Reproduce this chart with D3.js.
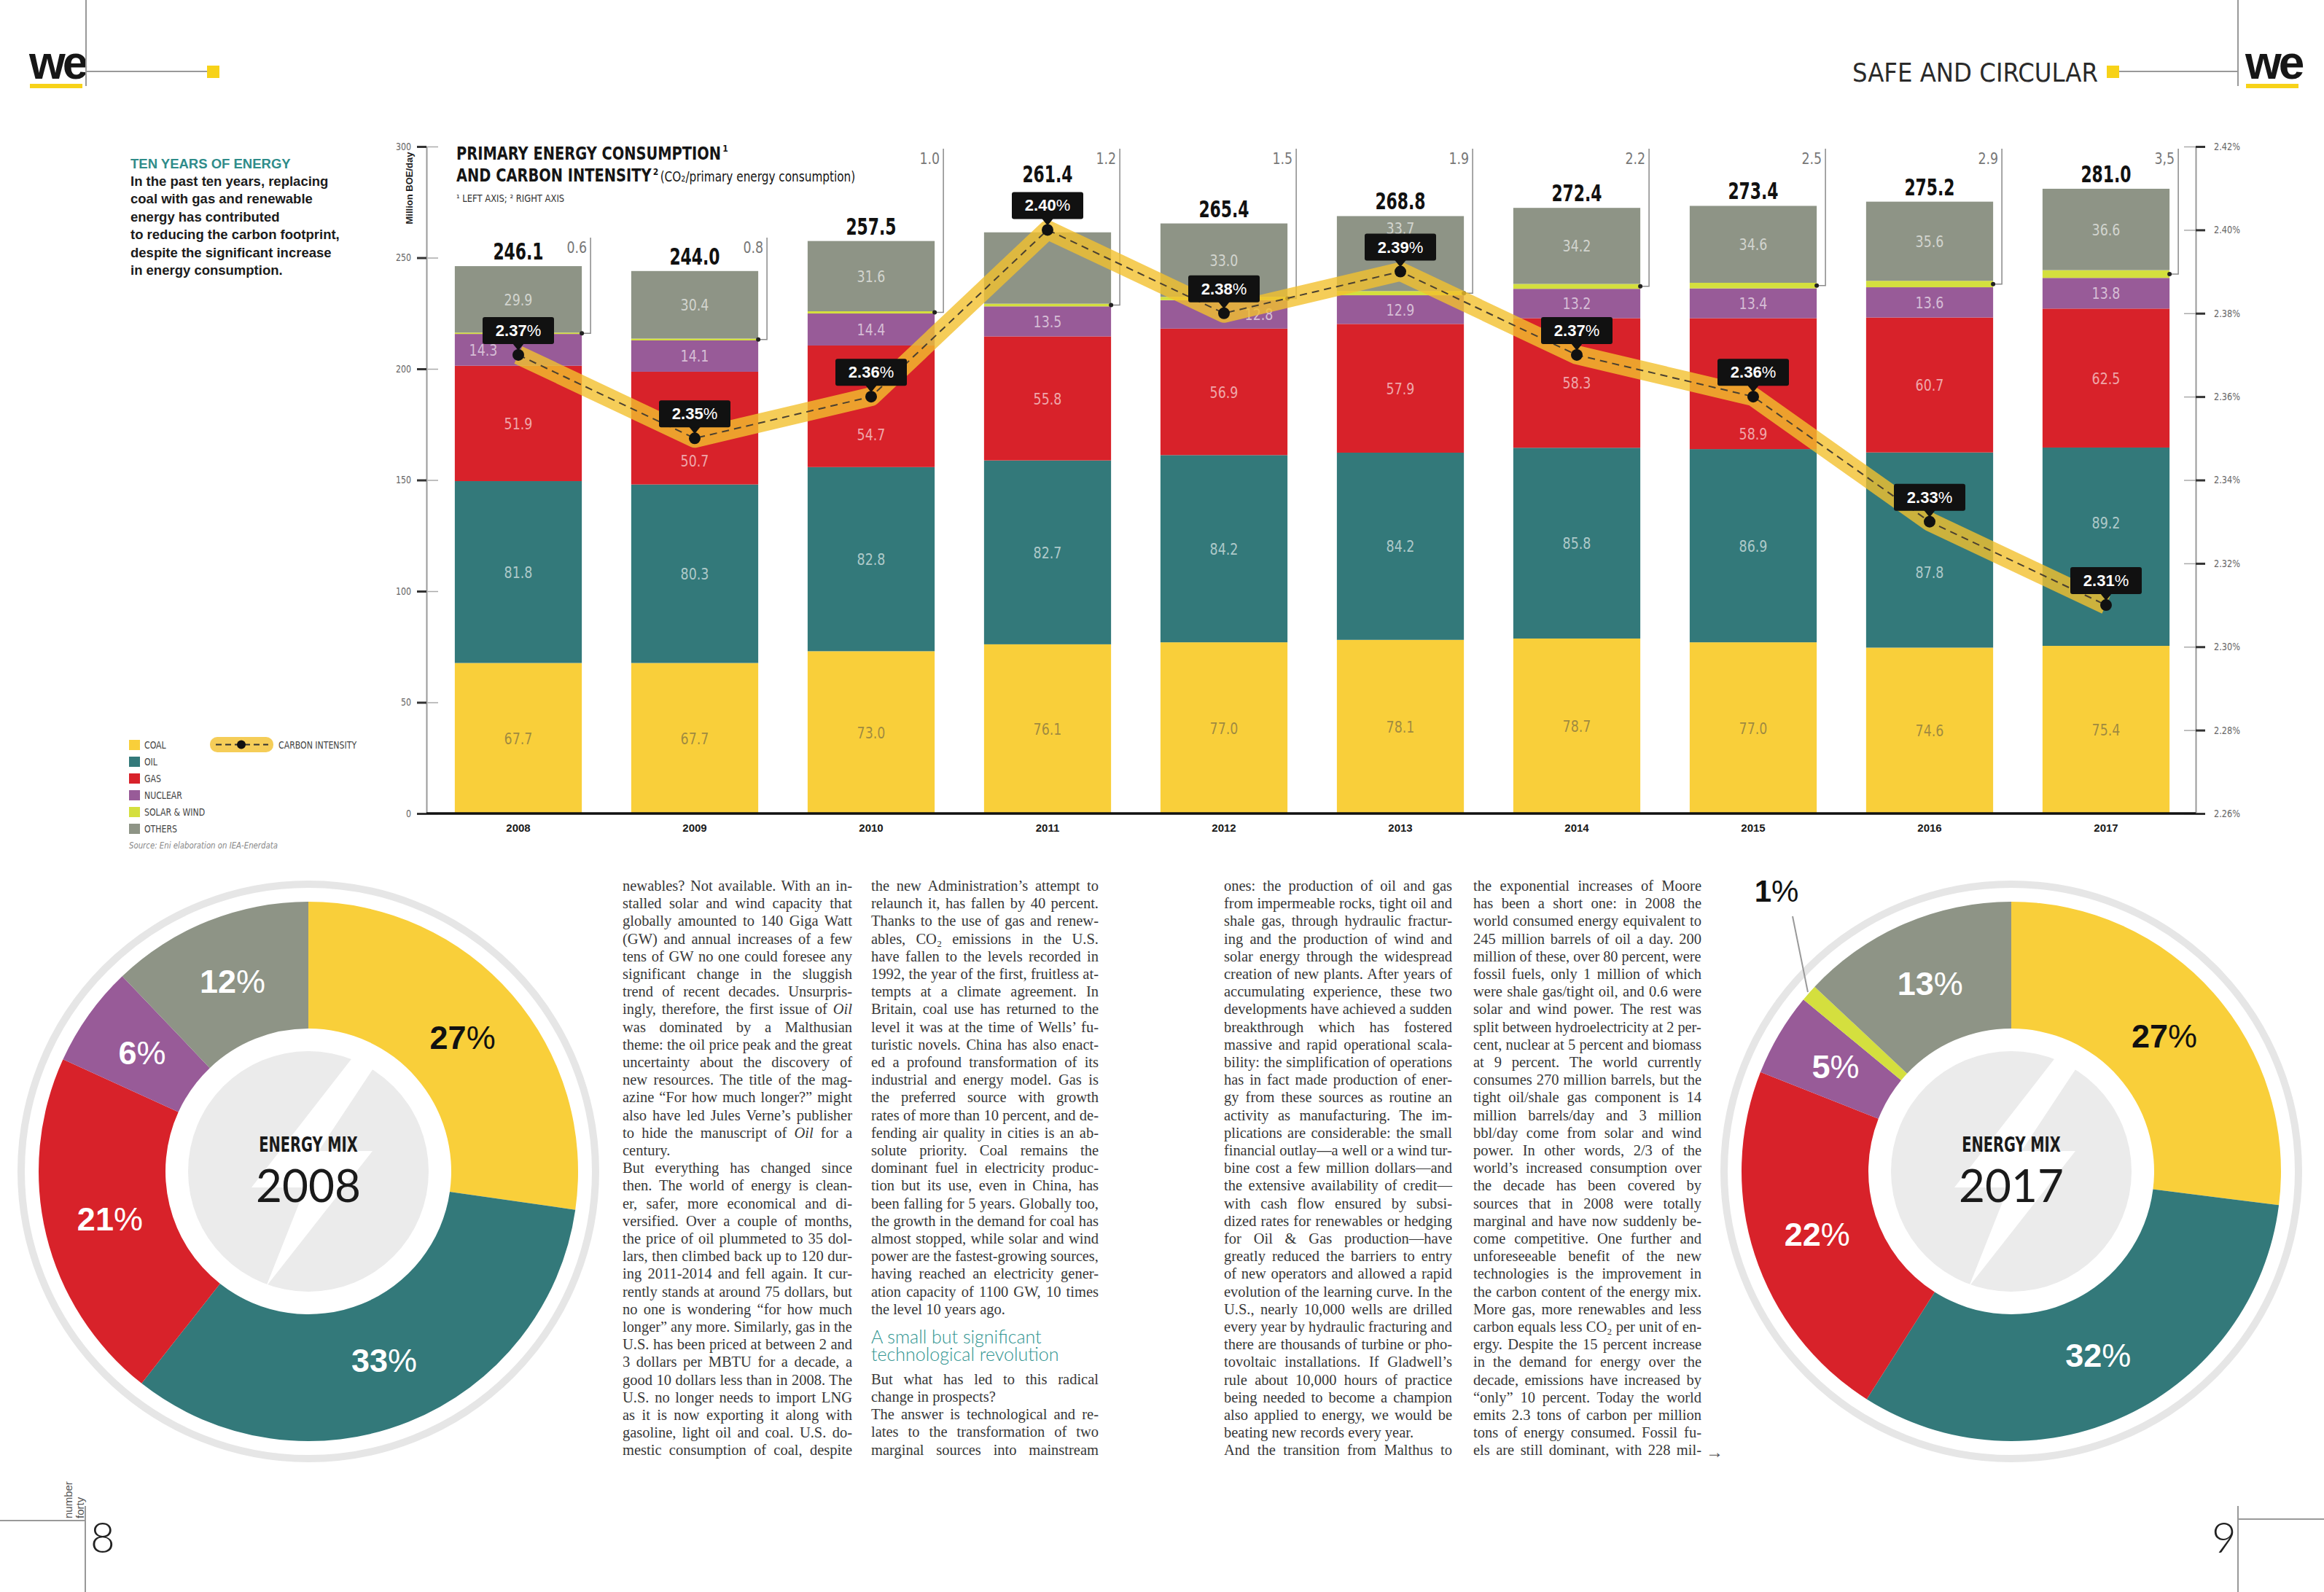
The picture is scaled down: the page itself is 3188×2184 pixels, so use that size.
<!DOCTYPE html>
<html lang="en">
<head>
<meta charset="utf-8">
<script src="https://cdn.jsdelivr.net/npm/d3@7"></script>
<title>Ten years of energy</title>
<style>
  body{margin:0;background:#fff;}
  svg{display:block;}
  .narrow{font-family:"Liberation Sans Narrow","DejaVu Sans Condensed","Roboto",sans-serif;}
  .sans{font-family:"Liberation Sans",Arial,sans-serif;}
  .serif{font-family:"Liberation Serif","DejaVu Serif",serif;}
  .light{font-family:Lato,"Open Sans",sans-serif;font-weight:300;}
</style>
</head>
<body>
<script>

// ---- data (Million BOE/day)
var years = [2008, 2009, 2010, 2011, 2012, 2013, 2014, 2015, 2016, 2017];
var coal      = [67.7, 67.7, 73.0, 76.1, 77.0, 78.1, 78.7, 77.0, 74.6, 75.4];
var oil       = [81.8, 80.3, 82.8, 82.7, 84.2, 84.2, 85.8, 86.9, 87.8, 89.2];
var gas       = [51.9, 50.7, 54.7, 55.8, 56.9, 57.9, 58.3, 58.9, 60.7, 62.5];
var nuclear   = [14.3, 14.1, 14.4, 13.5, 12.8, 12.9, 13.2, 13.4, 13.6, 13.8];
var solarWind = [0.6, 0.8, 1.0, 1.2, 1.5, 1.9, 2.2, 2.5, 2.9, 3.5];
var others    = [29.9, 30.4, 31.6, 32.1, 33.0, 33.7, 34.2, 34.6, 35.6, 36.6];
var totals    = [246.1, 244.0, 257.5, 261.4, 265.4, 268.8, 272.4, 273.4, 275.2, 281.0];
var solarLabels = ["0.6", "0.8", "1.0", "1.2", "1.5", "1.9", "2.2", "2.5", "2.9", "3,5"];

// carbon intensity (right axis, %)
var carbonIntensity = [2.37, 2.35, 2.36, 2.40, 2.38, 2.39, 2.37, 2.36, 2.33, 2.31];

var leftTicks  = [0, 50, 100, 150, 200, 250, 300];
var rightTicks = [2.26, 2.28, 2.30, 2.32, 2.34, 2.36, 2.38, 2.40, 2.42];

var sourceNames = ["COAL", "OIL", "GAS", "NUCLEAR", "SOLAR & WIND", "OTHERS"];

// energy mix donuts (%)
var mix2008 = [27, 33, 21, 6, 0, 12];
var mix2017 = [27, 32, 22, 5, 1, 13];

// ---- setup
var W = 3188, H = 2184;
var keys = ["coal", "oil", "gas", "nuclear", "solar", "others"];
var colors = ["#f9cf3a", "#33797a", "#d8222a", "#985b98", "#d4df3e", "#8e9486"];
var colorOf = {};
keys.forEach(function(k, i){ colorOf[k] = colors[i]; });

var svg = d3.select("body").append("svg").attr("width", W).attr("height", H)
  .style("background", "#fff");

var x  = d3.scaleBand().domain(years).range([590, 3010]).paddingInner(0.28).paddingOuter(0.14);
var yL = d3.scaleLinear().domain([0, 300]).range([1116, 201]);
var yR = d3.scaleLinear().domain([2.26, 2.42]).range([1116, 201]);
var bw = x.bandwidth();
var cx = function(yr){ return x(yr) + bw / 2; };

// squeeze text horizontally around its x, the fonts here are not condensed enough
function condense(sel, f){
  var last = 0;
  sel.each(function(){
    var n = this.getComputedTextLength();
    var x0 = +d3.select(this).attr("x") || 0;
    last = n * f;
    d3.select(this).attr("transform", "translate(" + x0 + ",0) scale(" + f + ",1) translate(" + (-x0) + ",0)");
  });
  return last;
}

// ---- page furniture
function logo(xp, yp){
  svg.append("text").attr("class", "sans").attr("x", xp).attr("y", yp)
    .attr("font-size", 64).attr("font-weight", 700).attr("letter-spacing", -4)
    .attr("fill", "#161616").text("we");
  svg.append("rect").attr("x", xp + 1).attr("y", yp + 7).attr("width", 72).attr("height", 6).attr("fill", "#f7d218");
}
logo(40, 108);
logo(3080, 108);
svg.append("line").attr("x1", 118).attr("x2", 118).attr("y1", 0).attr("y2", 118).attr("stroke", "#999").attr("stroke-width", 2);
svg.append("line").attr("x1", 118).attr("x2", 286).attr("y1", 98).attr("y2", 98).attr("stroke", "#999").attr("stroke-width", 2);
svg.append("rect").attr("x", 284).attr("y", 90).attr("width", 17).attr("height", 17).attr("fill", "#f7d218");
svg.append("line").attr("x1", 3070).attr("x2", 3070).attr("y1", 0).attr("y2", 118).attr("stroke", "#999").attr("stroke-width", 2);
svg.append("line").attr("x1", 2905).attr("x2", 3070).attr("y1", 98).attr("y2", 98).attr("stroke", "#999").attr("stroke-width", 2);
svg.append("rect").attr("x", 2890).attr("y", 90).attr("width", 17).attr("height", 17).attr("fill", "#f7d218");
svg.append("text").attr("class", "narrow").attr("x", 2878).attr("y", 112).attr("text-anchor", "end")
  .attr("font-size", 36).attr("fill", "#2a2a2a").text("SAFE AND CIRCULAR");

svg.append("line").attr("x1", 0).attr("x2", 117).attr("y1", 2086).attr("y2", 2086).attr("stroke", "#999").attr("stroke-width", 2);
svg.append("line").attr("x1", 117).attr("x2", 117).attr("y1", 2066).attr("y2", H).attr("stroke", "#999").attr("stroke-width", 2);
svg.append("line").attr("x1", 3070).attr("x2", W).attr("y1", 2084).attr("y2", 2084).attr("stroke", "#999").attr("stroke-width", 2);
svg.append("line").attr("x1", 3070).attr("x2", 3070).attr("y1", 2066).attr("y2", H).attr("stroke", "#999").attr("stroke-width", 2);
svg.append("text").attr("class", "light").attr("x", 124).attr("y", 2130).attr("font-size", 58).attr("fill", "#222").text("8");
svg.append("text").attr("class", "light").attr("x", 3034).attr("y", 2130).attr("font-size", 58).attr("fill", "#222").text("9");
[["number", 99], ["forty", 115]].forEach(function(t){
  svg.append("text").attr("class", "sans").attr("transform", "translate(" + t[1] + ",2083) rotate(-90)")
    .attr("font-size", 15).attr("fill", "#555").text(t[0]);
});

// ---- intro text
svg.append("text").attr("class", "sans").attr("x", 179).attr("y", 231)
  .attr("font-size", 18.5).attr("font-weight", 700).attr("fill", "#2f8c8a").text("TEN YEARS OF ENERGY");
["In the past ten years, replacing", "coal with gas and renewable", "energy has contributed",
 "to reducing the carbon footprint,", "despite the significant increase", "in energy consumption."]
  .forEach(function(t, i){
    svg.append("text").attr("class", "sans").attr("x", 179).attr("y", 255 + i * 24.4)
      .attr("font-size", 18.5).attr("font-weight", 700).attr("fill", "#1b1b1b").text(t);
  });

// ---- chart title
var title = svg.append("g").attr("class", "narrow").attr("fill", "#151515");
var t1 = title.append("text").attr("x", 626).attr("y", 219).attr("font-size", 24).attr("font-weight", 700)
  .text("PRIMARY ENERGY CONSUMPTION");
var w1 = condense(t1, 0.9);
title.append("text").attr("x", 626 + w1 + 2).attr("y", 208).attr("font-size", 12).attr("font-weight", 700).text("1");
var t2 = title.append("text").attr("x", 626).attr("y", 249).attr("font-size", 24).attr("font-weight", 700)
  .text("AND CARBON INTENSITY");
var w2 = condense(t2, 0.9);
title.append("text").attr("x", 626 + w2 + 2).attr("y", 240).attr("font-size", 12).attr("font-weight", 700).text("2");
var sub = title.append("text").attr("x", 626 + w2 + 12).attr("y", 249).attr("font-size", 20)
  .text("(CO\u2082/primary energy consumption)");
condense(sub, 0.85);
var t3 = title.append("text").attr("x", 626).attr("y", 277).attr("font-size", 14).attr("fill", "#333")
  .text("\u00B9 LEFT AXIS; \u00B2 RIGHT AXIS");
condense(t3, 0.92);

// ---- axes
var gl = svg.append("g").attr("class", "narrow").attr("transform", "translate(585,0)")
  .call(d3.axisLeft(yL).tickValues(leftTicks).tickSize(13).tickSizeOuter(0).tickPadding(8));
gl.select(".domain").attr("stroke", "#9a9a9a").attr("stroke-width", 2);
gl.selectAll(".tick line").attr("stroke", "#333").attr("stroke-width", 3);
gl.selectAll(".tick text").attr("font-size", 14).attr("fill", "#666");
condense(gl.selectAll(".tick text"), 0.88);
gl.selectAll(".tick").append("line").attr("x1", 0).attr("x2", 16).attr("stroke", "#aaa").attr("stroke-width", 1.5);
svg.append("text").attr("class", "sans").attr("transform", "translate(566,258) rotate(-90)")
  .attr("text-anchor", "middle").attr("font-size", 13).attr("font-weight", 700).attr("fill", "#222")
  .text("Million BOE/day");

var gr = svg.append("g").attr("class", "narrow").attr("transform", "translate(3012,0)")
  .call(d3.axisRight(yR).tickValues(rightTicks).tickSize(13).tickSizeOuter(0).tickPadding(12)
    .tickFormat(function(d){ return d.toFixed(2) + "%"; }));
gr.select(".domain").attr("stroke", "#9a9a9a").attr("stroke-width", 2);
gr.selectAll(".tick line").attr("stroke", "#333").attr("stroke-width", 3);
gr.selectAll(".tick text").attr("font-size", 14).attr("fill", "#666");
condense(gr.selectAll(".tick text"), 0.9);
gr.selectAll(".tick").append("line").attr("x1", -16).attr("x2", 0).attr("stroke", "#aaa").attr("stroke-width", 1.5);

// ---- stacked bars
var rows = years.map(function(yr, i){
  return {year: yr, coal: coal[i], oil: oil[i], gas: gas[i], nuclear: nuclear[i], solar: solarWind[i], others: others[i]};
});
var series = d3.stack().keys(keys)(rows);

var gBars = svg.append("g");
gBars.selectAll("g").data(series).join("g").attr("fill", function(d){ return colorOf[d.key]; })
  .selectAll("rect").data(function(d){ return d; }).join("rect")
  .attr("x", function(d){ return x(d.data.year); })
  .attr("width", bw)
  .attr("y", function(d){ return yL(d[1]); })
  .attr("height", function(d){ return yL(d[0]) - yL(d[1]); });

var gx = svg.append("g").attr("class", "sans").attr("transform", "translate(0,1116)")
  .call(d3.axisBottom(x).tickSize(0).tickPadding(14));
gx.select(".domain").remove();
gx.selectAll(".tick text").attr("font-size", 15).attr("font-weight", 700).attr("fill", "#1a1a1a");
svg.append("line").attr("x1", 585).attr("x2", 3012).attr("y1", 1116).attr("y2", 1116)
  .attr("stroke", "#111").attr("stroke-width", 3.5);

// segment value labels (moved where the carbon line sits on top)
var hiddenLabels = {"2011-others": true};
var labelNudge = {"2008-nuclear": [-48, 0], "2009-gas": [0, 45], "2010-gas": [0, 39],
  "2012-nuclear": [48, 0], "2013-others": [0, -35], "2015-gas": [0, 69], "2016-oil": [0, 30], "2017-oil": [0, -33]};
var gLab = svg.append("g").attr("class", "narrow").attr("text-anchor", "middle").attr("font-size", 22);
series.forEach(function(s){
  if (s.key === "solar") return;
  s.forEach(function(d){
    var id = d.data.year + "-" + s.key;
    if (hiddenLabels[id]) return;
    var n = labelNudge[id] || [0, 0];
    gLab.append("text")
      .attr("x", cx(d.data.year) + n[0])
      .attr("y", (yL(d[0]) + yL(d[1])) / 2 + 8 + n[1])
      .attr("fill", s.key === "coal" ? "rgba(90,85,70,0.58)" : "rgba(255,255,255,0.62)")
      .text(d.data[s.key].toFixed(1));
  });
});
condense(gLab.selectAll("text"), 0.88);

// totals
var totalNudge = {2011: -60};
var gTot = svg.append("g").attr("class", "narrow");
gTot.selectAll("text").data(years).join("text")
  .attr("x", function(d){ return cx(d); })
  .attr("y", function(d, i){ return yL(totals[i]) - 9 + (totalNudge[d] || 0); })
  .attr("text-anchor", "middle").attr("font-size", 32).attr("font-weight", 700).attr("fill", "#111")
  .text(function(d, i){ return totals[i].toFixed(1); });
condense(gTot.selectAll("text"), 0.76);

// solar & wind callouts
var gCall = svg.append("g").attr("class", "narrow");
years.forEach(function(yr, i){
  var xr = x(yr) + bw, xv = xr + 12;
  var ys = yL(coal[i] + oil[i] + gas[i] + nuclear[i] + solarWind[i] / 2);
  var top = i < 2 ? yL(259) : yL(299);
  gCall.append("path").attr("d", "M" + xr + "," + ys + "H" + xv + "V" + top)
    .attr("fill", "none").attr("stroke", "#8a8a8a").attr("stroke-width", 1.5);
  gCall.append("circle").attr("cx", xr).attr("cy", ys).attr("r", 3).attr("fill", "#222");
  gCall.append("text").attr("x", xv - 5).attr("y", top + 21).attr("text-anchor", "end")
    .attr("font-size", 22).attr("fill", "#777").text(solarLabels[i]);
});
condense(gCall.selectAll("text"), 0.88);

// ---- carbon intensity line
var pts = years.map(function(yr, i){ return [cx(yr), yR(carbonIntensity[i])]; });
var line = d3.line();
svg.append("path").attr("d", line(pts)).attr("fill", "none")
  .attr("stroke", "#f2c12e").attr("stroke-opacity", 0.8).attr("stroke-width", 26).attr("stroke-linejoin", "round");
svg.append("path").attr("d", line(pts)).attr("fill", "none")
  .attr("stroke", "#4a4030").attr("stroke-width", 2).attr("stroke-dasharray", "10,7");

var gCI = svg.append("g").selectAll("g").data(pts).join("g")
  .attr("transform", function(d){ return "translate(" + d[0] + "," + d[1] + ")"; });
gCI.append("circle").attr("r", 8).attr("fill", "#111");
gCI.append("path").attr("d", "M-8,-16L8,-16L0,-6Z").attr("fill", "#111");
gCI.append("rect").attr("x", -49).attr("y", -52).attr("width", 98).attr("height", 37).attr("rx", 3).attr("fill", "#111");
var ciText = gCI.append("text").attr("class", "sans").attr("y", -26).attr("text-anchor", "middle")
  .attr("font-size", 22).attr("fill", "#fff");
ciText.append("tspan").attr("font-weight", 700).text(function(d, i){ return carbonIntensity[i].toFixed(2); });
ciText.append("tspan").text("%");

// ---- legend
var gLeg = svg.append("g").attr("class", "narrow");
sourceNames.forEach(function(n, i){
  var yy = 1015 + i * 23;
  gLeg.append("rect").attr("x", 177).attr("y", yy).attr("width", 15).attr("height", 14).attr("fill", colors[i]);
  gLeg.append("text").attr("x", 198).attr("y", yy + 12).attr("font-size", 14).attr("fill", "#444").text(n);
});
gLeg.append("text").attr("x", 177).attr("y", 1164).attr("font-size", 13).attr("font-style", "italic")
  .attr("fill", "#888").text("Source: Eni elaboration on IEA-Enerdata");
gLeg.append("rect").attr("x", 288).attr("y", 1011).attr("width", 87).attr("height", 21).attr("rx", 10)
  .attr("fill", "#f2c12e").attr("opacity", 0.8);
gLeg.append("line").attr("x1", 296).attr("x2", 368).attr("y1", 1021.5).attr("y2", 1021.5)
  .attr("stroke", "#333").attr("stroke-width", 2).attr("stroke-dasharray", "8,5");
gLeg.append("circle").attr("cx", 331).attr("cy", 1021.5).attr("r", 6).attr("fill", "#111");
gLeg.append("text").attr("x", 382).attr("y", 1027).attr("font-size", 14).attr("fill", "#444").text("CARBON INTENSITY");
condense(gLeg.selectAll("text"), 0.87);

// ---- donuts
var pie = d3.pie().sort(null).value(function(d){ return d; });
var arc = d3.arc().innerRadius(196).outerRadius(370);
var labelArc = d3.arc().innerRadius(280).outerRadius(280);

function donut(px, py, values, yearText){
  var g = svg.append("g").attr("transform", "translate(" + px + "," + py + ")");
  g.append("circle").attr("r", 394).attr("fill", "none").attr("stroke", "#e6e6e6").attr("stroke-width", 10);
  var arcs = pie(values);
  g.selectAll("path.slice").data(arcs).join("path").attr("class", "slice")
    .attr("d", arc).attr("fill", function(d, i){ return colors[i]; });
  g.append("circle").attr("r", 165).attr("fill", "#ebebeb");
  g.append("path").attr("d", "M62,-158L-78,22L-4,22L-58,158L88,-28L14,-28L100,-158Z").attr("fill", "#fff");
  var em = g.append("text").attr("class", "narrow").attr("y", -27).attr("text-anchor", "middle")
    .attr("font-size", 28).attr("font-weight", 700).attr("fill", "#1a1a1a").text("ENERGY MIX");
  condense(em, 0.77);
  g.append("text").attr("y", 42).attr("text-anchor", "middle")
    .style("font-family", "Lato, 'Open Sans', sans-serif").attr("font-weight", 400)
    .attr("font-size", 62).attr("fill", "#1a1a1a").text(yearText);
  arcs.forEach(function(d, i){
    if (values[i] < 2) return;
    var c = labelArc.centroid(d);
    var t = g.append("text").attr("class", "sans").attr("x", c[0]).attr("y", c[1] + 15)
      .attr("text-anchor", "middle").attr("font-size", 45).attr("fill", i === 0 ? "#111" : "#fff");
    t.append("tspan").attr("font-weight", 700).text(values[i]);
    t.append("tspan").text("%");
  });
  return {g: g, arcs: arcs};
}
donut(423, 1607, mix2008, "2008");
var right = donut(2759, 1607, mix2017, "2017");
// small solar & wind slice label outside the ring
var sw = right.arcs[4];
var ang = (sw.startAngle + sw.endAngle) / 2;
right.g.append("line")
  .attr("x1", Math.sin(ang) * 372).attr("y1", -Math.cos(ang) * 372)
  .attr("x2", -300).attr("y2", -350)
  .attr("stroke", "#999").attr("stroke-width", 2);
var one = right.g.append("text").attr("class", "sans").attr("x", -322).attr("y", -370)
  .attr("text-anchor", "middle").attr("font-size", 42).attr("fill", "#111");
one.append("tspan").attr("font-weight", 700).text(mix2017[4]);
one.append("tspan").text("%");

// ---- article text (justified columns)
var col1 = [
"newables? Not available. With an in-",
"stalled solar and wind capacity that",
"globally amounted to 140 Giga Watt",
"(GW) and annual increases of a few",
"tens of GW no one could foresee any",
"significant change in the sluggish",
"trend of recent decades. Unsurpris-",
"ingly, therefore, the first issue of _Oil_",
"was dominated by a Malthusian",
"theme: the oil price peak and the great",
"uncertainty about the discovery of",
"new resources. The title of the mag-",
"azine \u201CFor how much longer?\u201D might",
"also have led Jules Verne\u2019s publisher",
"to hide the manuscript of _Oil_ for a",
"century.\u00B6",
"But everything has changed since",
"then. The world of energy is clean-",
"er, safer, more economical and di-",
"versified. Over a couple of months,",
"the price of oil plummeted to 35 dol-",
"lars, then climbed back up to 120 dur-",
"ing 2011-2014 and fell again. It cur-",
"rently stands at around 75 dollars, but",
"no one is wondering \u201Cfor how much",
"longer\u201D any more. Similarly, gas in the",
"U.S. has been priced at between 2 and",
"3 dollars per MBTU for a decade, a",
"good 10 dollars less than in 2008. The",
"U.S. no longer needs to import LNG",
"as it is now exporting it along with",
"gasoline, light oil and coal. U.S. do-",
"mestic consumption of coal, despite"
];
var col2 = [
"the new Administration\u2019s attempt to",
"relaunch it, has fallen by 40 percent.",
"Thanks to the use of gas and renew-",
"ables, CO\u2082 emissions in the U.S.",
"have fallen to the levels recorded in",
"1992, the year of the first, fruitless at-",
"tempts at a climate agreement. In",
"Britain, coal use has returned to the",
"level it was at the time of Wells\u2019 fu-",
"turistic novels. China has also enact-",
"ed a profound transformation of its",
"industrial and energy model. Gas is",
"the preferred source with growth",
"rates of more than 10 percent, and de-",
"fending air quality in cities is an ab-",
"solute priority. Coal remains the",
"dominant fuel in electricity produc-",
"tion but its use, even in China, has",
"been falling for 5 years. Globally too,",
"the growth in the demand for coal has",
"almost stopped, while solar and wind",
"power are the fastest-growing sources,",
"having reached an electricity gener-",
"ation capacity of 1100 GW, 10 times",
"the level 10 years ago.\u00B6",
"#A small but significant",
"#technological revolution",
"But what has led to this radical",
"change in prospects?\u00B6",
"The answer is technological and re-",
"lates to the transformation of two",
"marginal sources into mainstream"
];
var col3 = [
"ones: the production of oil and gas",
"from impermeable rocks, tight oil and",
"shale gas, through hydraulic fractur-",
"ing and the production of wind and",
"solar energy through the widespread",
"creation of new plants. After years of",
"accumulating experience, these two",
"developments have achieved a sudden",
"breakthrough which has fostered",
"massive and rapid operational scala-",
"bility: the simplification of operations",
"has in fact made production of ener-",
"gy from these sources as routine an",
"activity as manufacturing. The im-",
"plications are considerable: the small",
"financial outlay\u2014a well or a wind tur-",
"bine cost a few million dollars\u2014and",
"the extensive availability of credit\u2014",
"with cash flow ensured by subsi-",
"dized rates for renewables or hedging",
"for Oil & Gas production\u2014have",
"greatly reduced the barriers to entry",
"of new operators and allowed a rapid",
"evolution of the learning curve. In the",
"U.S., nearly 10,000 wells are drilled",
"every year by hydraulic fracturing and",
"there are thousands of turbine or pho-",
"tovoltaic installations. If Gladwell\u2019s",
"rule about 10,000 hours of practice",
"being needed to become a champion",
"also applied to energy, we would be",
"beating new records every year.\u00B6",
"And the transition from Malthus to"
];
var col4 = [
"the exponential increases of Moore",
"has been a short one: in 2008 the",
"world consumed energy equivalent to",
"245 million barrels of oil a day. 200",
"million of these, over 80 percent, were",
"fossil fuels, only 1 million of which",
"were shale gas/tight oil, and 0.6 were",
"solar and wind power. The rest was",
"split between hydroelectricity at 2 per-",
"cent, nuclear at 5 percent and biomass",
"at 9 percent. The world currently",
"consumes 270 million barrels, but the",
"tight oil/shale gas component is 14",
"million barrels/day and 3 million",
"bbl/day come from solar and wind",
"power. In other words, 2/3 of the",
"world\u2019s increased consumption over",
"the decade has been covered by",
"sources that in 2008 were totally",
"marginal and have now suddenly be-",
"come competitive. One further and",
"unforeseeable benefit of the new",
"technologies is the improvement in",
"the carbon content of the energy mix.",
"More gas, more renewables and less",
"carbon equals less CO\u2082 per unit of en-",
"ergy. Despite the 15 percent increase",
"in the demand for energy over the",
"decade, emissions have increased by",
"\u201Conly\u201D 10 percent. Today the world",
"emits 2.3 tons of carbon per million",
"tons of energy consumed. Fossil fu-",
"els are still dominant, with 228 mil-"
];

function column(lines, x0, w){
  var g = svg.append("g");
  var yy = 1222, prevHead = false;
  lines.forEach(function(raw, i){
    if (raw.charAt(0) === "#") {
      yy += prevHead ? 24 : 40;
      g.append("text").attr("class", "light").attr("x", x0).attr("y", yy)
        .attr("font-size", 25).attr("font-weight", 400).attr("fill", "#2f9490").text(raw.slice(1));
      prevHead = true;
      return;
    }
    if (i > 0) yy += prevHead ? 32 : 24.2;
    prevHead = false;
    var last = raw.slice(-1) === "\u00B6";
    var s = last ? raw.slice(0, -1) : raw;
    var t = g.append("text").attr("class", "serif").attr("x", x0).attr("y", yy)
      .attr("font-size", 20.5).attr("fill", "#383838");
    s.split("_").forEach(function(part, k){
      t.append("tspan").attr("font-style", k % 2 ? "italic" : "normal").text(part);
    });
    if (!last) {
      var nat = t.node().getComputedTextLength();
      var spaces = (s.match(/ /g) || []).length;
      if (nat < w && spaces > 0) t.attr("word-spacing", (w - nat) / spaces);
      else if (nat > w) condense(t, w / nat);
    }
  });
}
column(col1, 854, 315);
column(col2, 1195, 312);
column(col3, 1679, 313);
column(col4, 2021, 313);
svg.append("text").attr("class", "sans").attr("x", 2340).attr("y", 2000).attr("font-size", 24)
  .attr("fill", "#555").text("\u2192");

</script>
</body>
</html>
